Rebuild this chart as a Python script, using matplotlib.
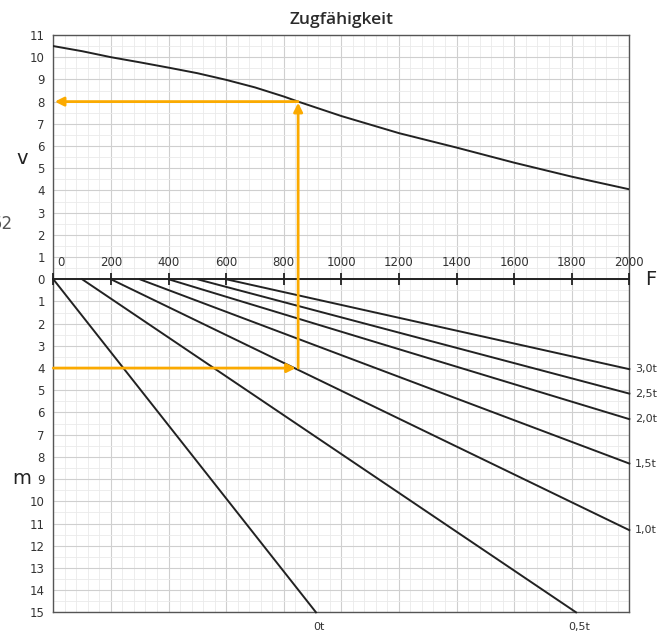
import numpy as np
import matplotlib
matplotlib.use("Agg")
import matplotlib.pyplot as plt
from matplotlib.ticker import MultipleLocator

# Daten oben: Geschwindigkeit v ueber Zugkraft F
kraft = [0, 100, 200, 300, 400, 500, 600, 700, 800, 850, 1000, 1200, 1400, 1600, 1800, 2000]
geschw = [10.5, 10.27, 10.0, 9.77, 9.53, 9.28, 8.98, 8.64, 8.23, 8.0, 7.35, 6.58, 5.93, 5.25, 4.62, 4.05]

# Daten unten: Steigung m je Anhaengelast
lasten = ["0t", "0,5t", "1,0t", "1,5t", "2,0t", "2,5t", "3,0t"]
start_kraft = [0, 100, 200, 300, 400, 500, 600]
end_kraft = [912, 1815, 2000, 2000, 2000, 2000, 2000]
end_steigung = [15, 15, 11.3, 8.3, 6.3, 5.15, 4.05]

# Ablesebeispiel
f_ablesen = 850
v_ablesen = 8
m_ablesen = 4

x_ticks = list(range(0, 2001, 200))
y_ticks = list(range(-15, 12))

orange = "#fbaa00"
textfarbe = "#333333"

fig = plt.figure(figsize=(6.7, 6.35), dpi=100)
ax = fig.add_axes([0.0796, 0.0357, 0.8597, 0.9092])

ax.set_xlim(0, 2000)
ax.set_ylim(-15, 11)

# Raster
ax.xaxis.set_major_locator(MultipleLocator(200))
ax.xaxis.set_minor_locator(MultipleLocator(40))
ax.yaxis.set_major_locator(MultipleLocator(1))
ax.yaxis.set_minor_locator(MultipleLocator(0.5))
ax.grid(which="major", color="#cfcfcf", lw=0.8)
ax.grid(which="minor", color="#eaeaea", lw=0.6)
ax.set_axisbelow(True)

ax.set_xticks(x_ticks)
ax.set_xticklabels([])
ax.set_yticks(y_ticks)
ax.set_yticklabels([str(abs(t)) for t in y_ticks], fontsize=8.5, color=textfarbe)
ax.tick_params(which="both", length=0, pad=6)
for s in ax.spines.values():
    s.set_color("#555555")
    s.set_linewidth(1)

# F-Achse in der Mitte
ax.plot([0, 2000], [0, 0], color="#222222", lw=1.4, zorder=4, clip_on=False)
ax.plot(x_ticks, [0] * len(x_ticks), ls="none", marker="|", ms=8, mew=1.3,
        color="#222222", zorder=4, clip_on=False)
for t in x_ticks:
    xpos = t
    if t == 0:
        xpos = 28
    ax.text(xpos, 0.45, str(t), ha="center", va="bottom", fontsize=8.5,
            color=textfarbe, zorder=5)

# Kurve oben
ax.plot(kraft, geschw, color="#222222", lw=1.4, zorder=3)

# Geraden unten
for name, f0, f1, m1 in zip(lasten, start_kraft, end_kraft, end_steigung):
    ax.plot([f0, f1], [0, -m1], color="#222222", lw=1.4, zorder=3, clip_on=False)
    if f1 < 2000:
        ax.text(f1 + 10, -15.45, name, ha="center", va="top", fontsize=8, color=textfarbe)
    else:
        ax.text(2020, -m1, name, ha="left", va="center", fontsize=8, color=textfarbe)

# Ablesepfeile
pfeil = dict(arrowstyle="-|>", color=orange, lw=2, mutation_scale=13, shrinkA=0, shrinkB=0)
ax.annotate("", xy=(f_ablesen, v_ablesen - 0.05), xytext=(f_ablesen, -m_ablesen),
            arrowprops=pfeil, zorder=6)
ax.annotate("", xy=(5, v_ablesen), xytext=(f_ablesen, v_ablesen),
            arrowprops=pfeil, zorder=6)
ax.annotate("", xy=(f_ablesen - 8, -m_ablesen), xytext=(0, -m_ablesen),
            arrowprops=pfeil, zorder=6)

# Beschriftungen
ax.set_title("Zugfähigkeit", fontsize=12.5, color="#2a2a2a", pad=8,
             family="Open Sans", fontweight="semibold")
fig.text(22 / 670, 1 - 158 / 635, "v", fontsize=14, ha="center", va="center", color="#222222")
fig.text(22 / 670, 1 - 478 / 635, "m", fontsize=14, ha="center", va="center", color="#222222")
fig.text(651 / 670, 1 - 279 / 635, "F", fontsize=14, ha="center", va="center", color="#222222")
# angeschnittener Rest links, wie im Original
fig.text(13 / 670, 1 - 224 / 635, "52", fontsize=12, ha="right", va="center", color="#555555")

fig.savefig("out.png", dpi=100)
